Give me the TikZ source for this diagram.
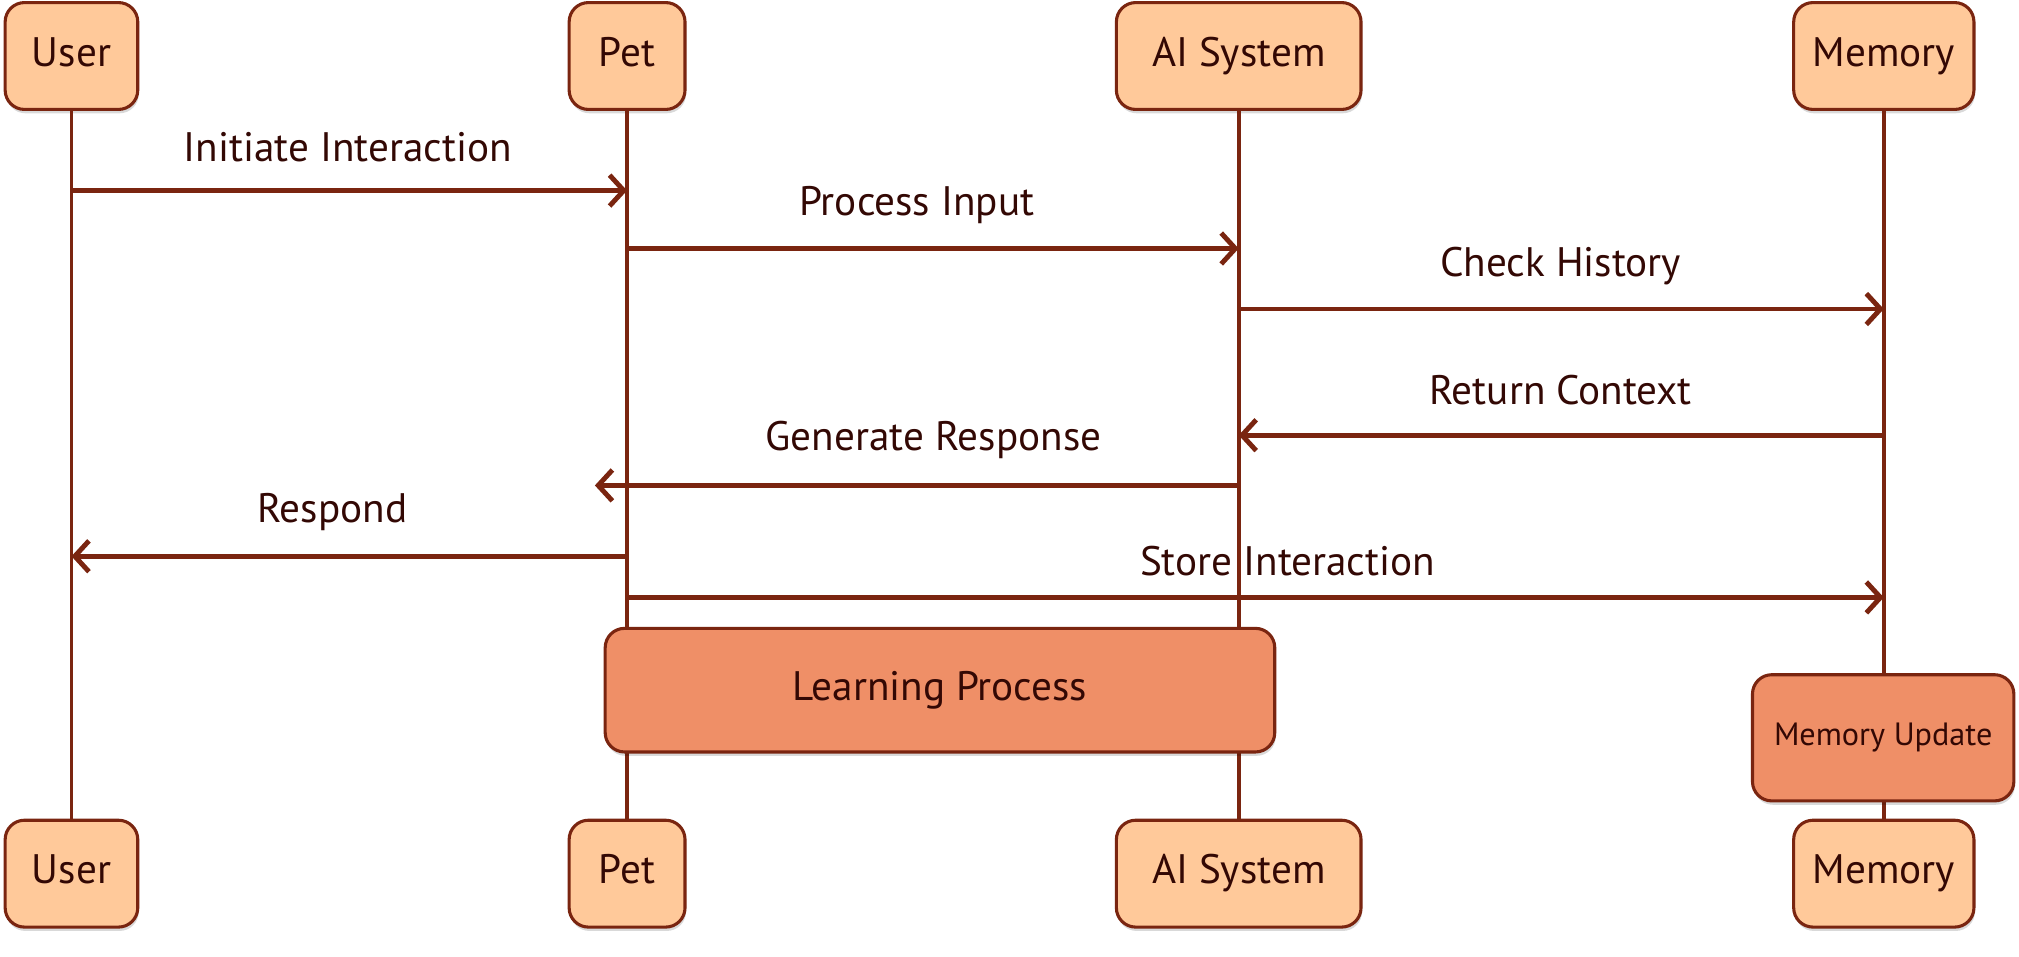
\documentclass[tikz,border=0pt]{standalone}
\usepackage{fontspec}
\setmainfont{PT Sans}
\usetikzlibrary{arrows.meta,shadows}
\definecolor{peach}{HTML}{FFC99A}
\definecolor{notefill}{HTML}{EF8F67}
\definecolor{edge}{HTML}{7A2510}
\definecolor{ink}{HTML}{330804}
\begin{document}
\begin{tikzpicture}[x=0.5pt,y=-0.5pt,
  actor/.style={draw=edge, line width=1.2pt, fill=peach, rounded corners=7.5pt,
    minimum height=41.5pt, inner sep=0pt, text=ink, font=\fontsize{16}{18}\selectfont,
    text height=11pt, text depth=3pt,
    drop shadow={shadow xshift=0.4pt, shadow yshift=-1.5pt, fill=black, opacity=0.15}},
  notebox/.style={draw=edge, line width=1.2pt, fill=notefill, rounded corners=7.5pt,
    inner sep=0pt, text=ink,
    drop shadow={shadow xshift=0.4pt, shadow yshift=-1.5pt, fill=black, opacity=0.15}},
  life/.style={draw=edge, line width=1.5pt},
  msg/.style={draw=edge, line width=1.9pt, -{Straight Barb[length=5.5pt,width=12pt,line width=1.9pt]}},
  lab/.style={text=ink, font=\fontsize{16}{18}\selectfont, inner sep=0pt}
]
\useasboundingbox (0,0) rectangle (1568,743.2);
% top actors
\node[actor, minimum width=51.5pt] (ut) at (55.5,43.5) {User};
\node[actor, minimum width=45pt] (pt) at (487,43.5) {Pet};
\node[actor, minimum width=95pt] (at) at (962,43.5) {AI System};
\node[actor, minimum width=70pt] (mt) at (1463,43.5) {Memory};
% bottom actors
\node[actor, minimum width=51.5pt] (ub) at (55.5,678.5) {User};
\node[actor, minimum width=45pt] (pb) at (487,678.5) {Pet};
\node[actor, minimum width=95pt] (ab) at (962,678.5) {AI System};
\node[actor, minimum width=70pt] (mb) at (1463,678.5) {Memory};
% lifelines
\draw[life] (ut.south) -- (ub.north);
\draw[life] (pt.south) -- (pb.north);
\draw[life] (at.south) -- (ab.north);
\draw[life] (mt.south) -- (mb.north);
% messages
\draw[msg] (ut |- 0,148) -- (pt |- 0,148);
\node[lab] (l1) at (270,114) {Initiate Interaction};
\draw[msg] (pt |- 0,193) -- (at |- 0,193);
\node[lab] (l2) at (712,159) {Process Input};
\draw[msg] (at |- 0,240) -- (mt |- 0,240);
\node[lab] (l3) at (1212,207) {Check History};
\draw[msg] (mt |- 0,338) -- (at |- 0,338);
\node[lab] (l4) at (1212,303) {Return Context};
\coordinate (gr) at (462,377);
\draw[msg] (at |- 0,377) -- (gr);
\node[lab] (l5) at (725,342) {Generate Response};
\draw[msg] (pt |- 0,432) -- (ut |- 0,432);
\node[lab] (l6) at (258,398) {Respond};
\draw[msg] (pt |- 0,464) -- (mt |- 0,464);
\node[lab] (l7) at (1000,436) {Store Interaction};
% notes
\node[notebox, minimum width=260pt, minimum height=48pt, font=\fontsize{16}{18}\selectfont] (learn) at (730,536) {Learning Process};
\node[notebox, minimum width=101.5pt, minimum height=49pt, font=\fontsize{12.5}{14}\selectfont] (mupd) at (1462.5,573) {Memory Update};
\end{tikzpicture}
\end{document}
